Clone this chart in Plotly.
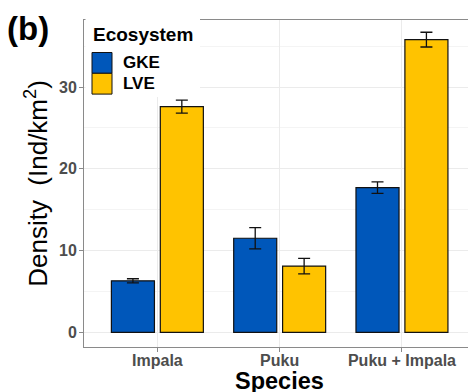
import plotly.graph_objects as go

species = ["Impala", "Puku", "Puku + Impala"]
ecosystems = ["GKE", "LVE"]
gke_density = [6.3, 11.5, 17.7]
gke_se = [0.25, 1.3, 0.7]
lve_density = [27.6, 8.1, 35.8]
lve_se = [0.8, 0.95, 0.9]
y_ticks = [0, 10, 20, 30]

colors = {"GKE": "#0057BA", "LVE": "#FFC300"}
FONT = "Liberation Sans, Arial, sans-serif"

W, H = 468, 392
ML, MR, MT, MB = 84, 0, 20, 45
PW, PH = W - ML - MR, H - MT - MB


def px(x):
    return (x - ML) / PW


def py(y):
    return (H - MB - y) / PH


fig = go.Figure()
for name, vals, errs in [("GKE", gke_density, gke_se), ("LVE", lve_density, lve_se)]:
    fig.add_trace(go.Bar(
        x=species, y=vals, name=name,
        marker=dict(color=colors[name], line=dict(color="#111111", width=1.2)),
        error_y=dict(type="data", array=errs, visible=True, color="#111111",
                     thickness=1.3, width=6),
        showlegend=False,
    ))

axis_grey = "#8a8a8a"
fig.update_layout(
    width=W, height=H,
    margin=dict(l=ML, r=MR, t=MT, b=MB),
    paper_bgcolor="white", plot_bgcolor="white",
    barmode="group", bargap=0.2, bargroupgap=0.12,
    font=dict(family=FONT),
    xaxis=dict(
        type="category", range=[-0.6, 2.54],
        showline=True, linecolor=axis_grey, linewidth=1, mirror=True,
        ticks="outside", ticklen=4, tickcolor=axis_grey, tickwidth=1,
        showgrid=True, gridcolor="#ebebeb", gridwidth=1,
        tickfont=dict(family=FONT, size=16, color="#4d4d4d", weight="bold"),
        ticklabelstandoff=-5,
        automargin=False,
    ),
    yaxis=dict(
        range=[-1.8, 38.2], tickvals=y_ticks,
        showline=True, linecolor=axis_grey, linewidth=1,
        ticks="outside", ticklen=4, tickcolor=axis_grey, tickwidth=1,
        showgrid=True, gridcolor="#ebebeb", gridwidth=1, zeroline=False,
        minor=dict(dtick=5, tick0=0, showgrid=True, gridcolor="#f4f4f4", gridwidth=0.6, ticks=""),
        tickfont=dict(family=FONT, size=16, color="#4d4d4d", weight="bold"),
        ticklabelstandoff=-1,
        title=dict(text="Density\u00a0\u00a0(Ind/km<sup>2</sup>)",
                   font=dict(family=FONT, size=26, color="black"), standoff=3),
        automargin=False,
    ),
)

# legend (ggplot-style, drawn over the panel border)
shapes = [
    dict(type="rect", xref="paper", yref="paper", layer="above",
         x0=px(85.5), x1=px(200), y0=py(-2), y1=py(97),
         fillcolor="white", line=dict(width=0)),
]
key_top = 52.5
key_h = 20.8
for i, name in enumerate(ecosystems):
    shapes.append(dict(type="rect", xref="paper", yref="paper", layer="above",
                       x0=px(92), x1=px(112),
                       y0=py(key_top + (i + 1) * key_h), y1=py(key_top + i * key_h),
                       fillcolor=colors[name], line=dict(color="#111111", width=1)))
annotations = [
    dict(text="<b>Ecosystem</b>", xref="paper", yref="paper", x=px(91), y=py(35),
         xanchor="left", yanchor="middle", showarrow=False,
         font=dict(family=FONT, size=19, color="black")),
    dict(text="<b>(b)</b>", xref="paper", yref="paper", x=px(5), y=py(28),
         xanchor="left", yanchor="middle", showarrow=False,
         font=dict(family=FONT, size=33, color="black")),
    dict(text="<b>Species</b>", xref="paper", yref="paper", x=px(279.5), y=py(381),
         xanchor="center", yanchor="middle", showarrow=False,
         font=dict(family=FONT, size=23.5, color="black")),
]
for i, name in enumerate(ecosystems):
    annotations.append(dict(text="<b>%s</b>" % name, xref="paper", yref="paper",
                            x=px(121), y=py(key_top + (i + 0.5) * key_h),
                            xanchor="left", yanchor="middle", showarrow=False,
                            font=dict(family=FONT, size=17, color="black")))
fig.update_layout(shapes=shapes, annotations=annotations)

fig.write_html("out.html", config={"displayModeBar": False},
               post_script="document.body.style.margin='0';document.body.style.overflow='hidden';")
